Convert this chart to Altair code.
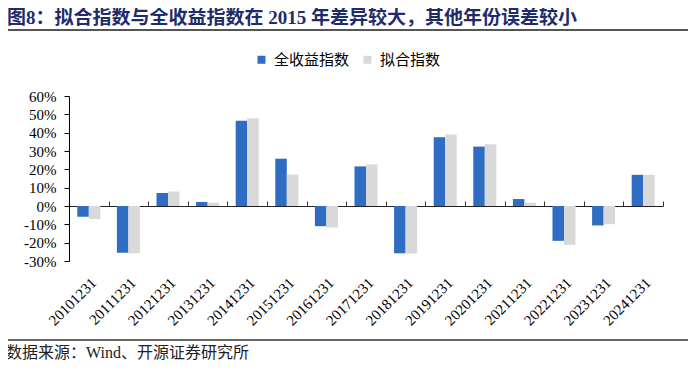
import altair as alt
import pandas as pd

years = ["20101231", "20111231", "20121231", "20131231", "20141231", "20151231",
         "20161231", "20171231", "20181231", "20191231", "20201231", "20211231",
         "20221231", "20231231", "20241231"]
total_return = [-5.9, -25.5, 7.1, 2.2, 46.5, 25.8, -11.0, 21.6, -25.8, 37.5, 32.4, 3.8, -19.0, -10.6, 17.0]
fitted = [-7.1, -25.8, 7.9, 1.8, 47.8, 17.2, -11.7, 22.7, -26.0, 39.0, 33.7, 1.8, -21.2, -9.9, 17.0]
series = ["全收益指数", "拟合指数"]
colors = ["#2E6DC3", "#D9D9D9"]
y_ticks = [-0.3, -0.2, -0.1, 0.0, 0.1, 0.2, 0.3, 0.4, 0.5, 0.6]

title_text = "图8：拟合指数与全收益指数在 2015 年差异较大，其他年份误差较小"
source_text = "数据来源：Wind、开源证券研究所"

rows = []
for i, yr in enumerate(years):
    rows.append({"year": yr, "series": series[0], "value": total_return[i] / 100})
    rows.append({"year": yr, "series": series[1], "value": fitted[i] / 100})
df = pd.DataFrame(rows)

FONT = "Liberation Serif, Noto Sans CJK SC"
W, H = 594, 165

x_scale = alt.Scale(paddingInner=0, paddingOuter=0)
y_scale = alt.Scale(domain=[-0.3, 0.6], nice=False, zero=False)

y_axis = alt.Axis(values=y_ticks, labelExpr="round(datum.value*100) + '%'",
                  grid=False, domainColor="black", tickColor="black",
                  tickSize=5, labelFont=FONT, labelFontSize=15,
                  labelColor="black", labelPadding=8, labelOverlap=False,
                  labelFlush=False, labelBound=False, title=None)

bars = alt.Chart(df).mark_bar().encode(
    x=alt.X("year:N", sort=years, scale=x_scale,
            axis=alt.Axis(orient="bottom", domain=False, ticks=False, labelAngle=-45,
                          labelAlign="right", labelBaseline="top",
                          labelFont=FONT, labelFontSize=15, labelColor="black",
                          labelPadding=14, labelOverlap=False, title=None)),
    xOffset=alt.XOffset("series:N", sort=series,
                        scale=alt.Scale(paddingInner=0, paddingOuter=0.72)),
    y=alt.Y("value:Q", scale=y_scale, axis=y_axis),
    color=alt.Color("series:N", sort=series,
                    scale=alt.Scale(domain=series, range=colors),
                    legend=alt.Legend(orient="none", legendX=185, legendY=-44,
                                      direction="horizontal", title=None,
                                      symbolType="square", symbolSize=64,
                                      symbolStrokeWidth=0, labelFont=FONT,
                                      labelFontSize=15, labelColor="black",
                                      labelOffset=5, columnPadding=10, padding=0)),
)

zero_axis = alt.Chart(df).mark_bar(opacity=0).encode(
    x=alt.X("year:N", sort=years, scale=x_scale,
            axis=alt.Axis(orient="top", offset=-110, labels=False, ticks=True,
                          tickBand="extent", tickSize=5, tickColor="#333333",
                          domain=True, domainColor="#222222", domainWidth=1.2,
                          title=None)),
    y=alt.Y("value:Q", scale=y_scale, axis=y_axis),
)

one = pd.DataFrame({"t": [title_text], "s": [source_text]})

title = alt.Chart(one).mark_text(align="left", baseline="middle", font=FONT,
                                 fontSize=19, fontWeight="bold", color="#1F2C6C").encode(
    text="t:N", x=alt.value(-62), y=alt.value(-78))

source = alt.Chart(one).mark_text(align="left", baseline="middle", font=FONT,
                                  fontSize=16, color="#222222").encode(
    text="s:N", x=alt.value(-63), y=alt.value(257))

top_line = alt.Chart(one).mark_rule(color="#555555", strokeWidth=2).encode(
    x=alt.value(-64), x2=alt.value(626), y=alt.value(-66))

bottom_line = alt.Chart(one).mark_rule(color="#333333", strokeWidth=1.5).encode(
    x=alt.value(-64), x2=alt.value(626), y=alt.value(244))

chart = alt.layer(bars, zero_axis, title, source, top_line, bottom_line).resolve_axis(
    x="independent"
).properties(
    width=W, height=H,
    autosize=alt.AutoSizeParams(type="none"),
    padding={"left": 61, "top": 88, "right": 25, "bottom": 101},
).configure_view(stroke=None).configure_axis(labelOverlap=False)

chart.save("out.html", embed_options={"renderer": "svg", "actions": False})
